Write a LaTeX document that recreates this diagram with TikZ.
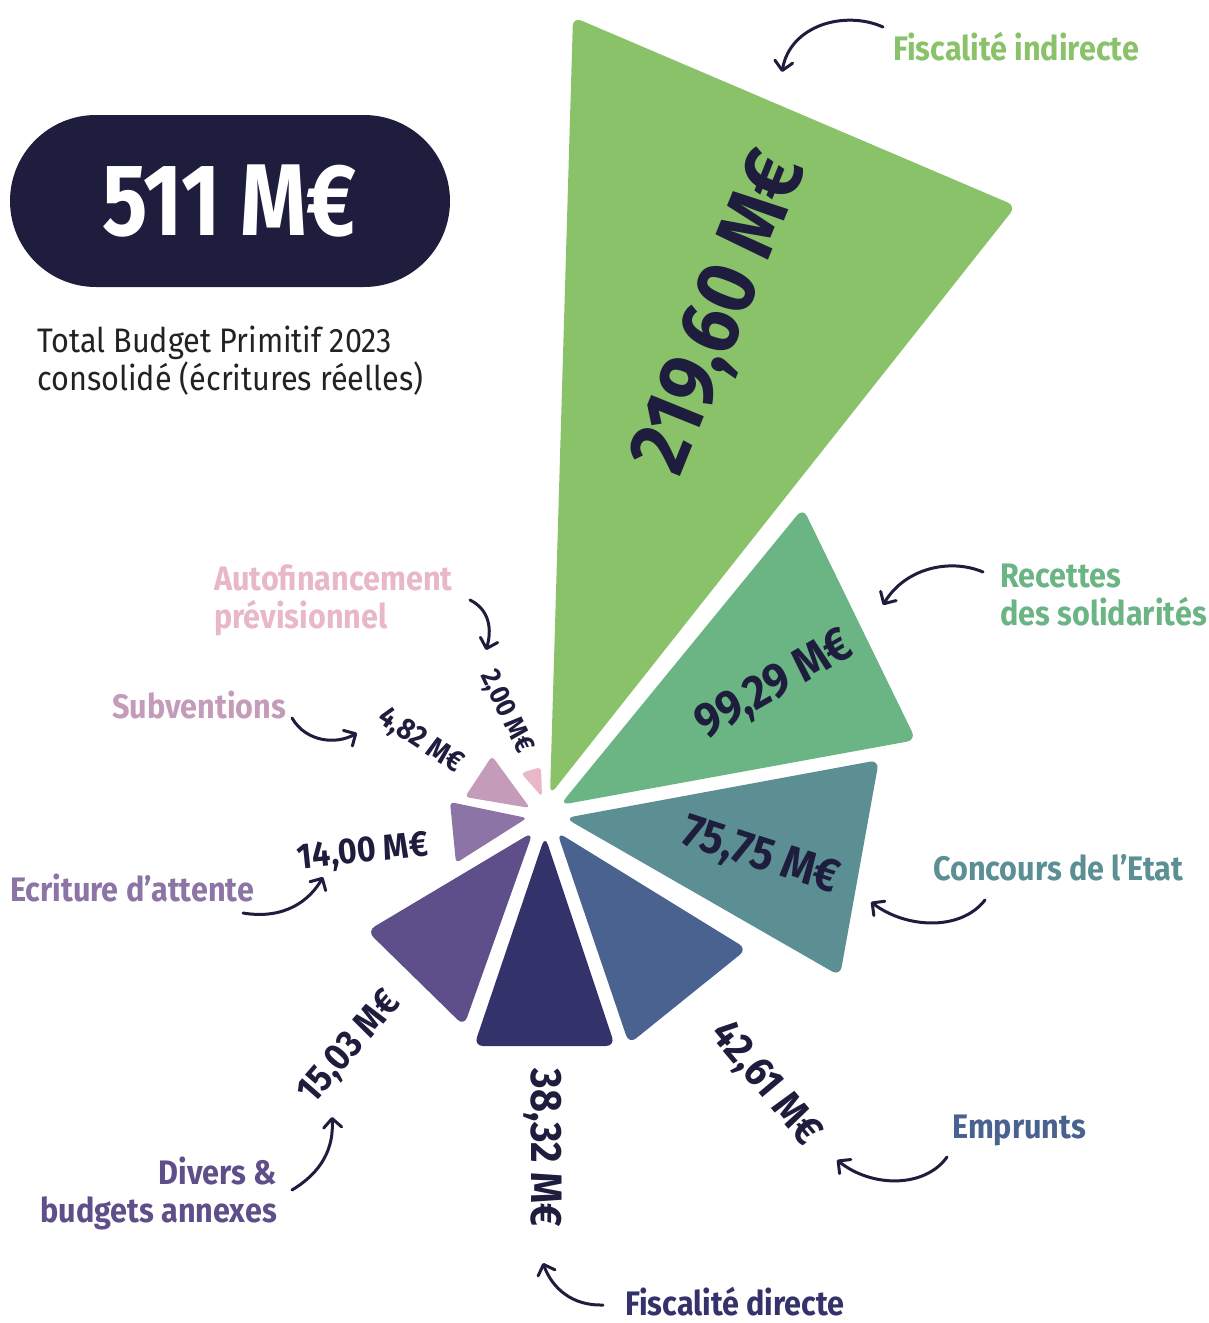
\documentclass[tikz,border=0pt]{standalone}
\usepackage{fontspec}
\setmainfont{Fira Sans}[FakeStretch=0.9]
\newfontfamily\pillfont{Fira Sans}[FakeStretch=0.83]
\usetikzlibrary{arrows.meta}
\definecolor{cInd}{HTML}{8AC26A}
\definecolor{cSol}{HTML}{6BB584}
\definecolor{cEtat}{HTML}{5B8F93}
\definecolor{cEmp}{HTML}{4A628F}
\definecolor{cDir}{HTML}{34326A}
\definecolor{cDiv}{HTML}{5E4F8B}
\definecolor{cEcr}{HTML}{8C74A6}
\definecolor{cSub}{HTML}{C49BB8}
\definecolor{cAuto}{HTML}{E8B7C9}
\definecolor{cDark}{HTML}{1F1D3D}
\definecolor{cBody}{HTML}{222222}
\begin{document}
\begin{tikzpicture}[x=1pt,y=-1pt,
  wedge/.style={rounded corners=9pt},
  smallwedge/.style={rounded corners=4pt},
  val/.style={text=cDark, inner sep=0pt},
  cat/.style={font=\bfseries\fontsize{34}{38}\selectfont, inner sep=0pt, anchor=base west, align=left},
  arr/.style={draw=cDark, line width=3pt, line cap=round, -{Straight Barb[length=9pt,width=18pt,round]}}]
\useasboundingbox (0,0) rectangle (1208,1323);

% wedges
\fill[cInd, wedge] (550,795) -- (573,17) -- (1016,206) -- cycle;
\fill[cSol, wedge] (560,805) -- (803,508) -- (916,740) -- cycle;
\fill[cEtat, wedge] (565,818) -- (879,760) -- (840,976) -- cycle;
\fill[cEmp, wedge] (557,832) -- (747,949) -- (629,1044) -- cycle;
\fill[cDir, wedge] (545,836) -- (615,1046) -- (474,1046) -- cycle;
\fill[cDiv, wedge] (533,832) -- (367,931) -- (464,1026) -- cycle;
\fill[cEcr, smallwedge] (527,818) -- (450,802) -- (456,863) -- cycle;
\fill[cSub, smallwedge] (530,808) -- (492,756) -- (465,797) -- cycle;
\fill[cAuto, smallwedge] (542,797) -- (521,773) -- (541,767) -- cycle;

% total pill
\node[fill=cDark, rounded corners=86pt, minimum width=440pt, minimum height=172pt, inner sep=0pt,
      text=white, font=\pillfont\bfseries\fontsize{102}{102}\selectfont] (pill) at (230,201) {511 M€};
\node[inner sep=0pt, anchor=base west, align=left, text=cBody, font=\fontsize{34}{38}\selectfont]
  (tot) at (37,390) {Total Budget Primitif 2023\\consolidé (écritures réelles)};

% values
\node[val, font=\bfseries\fontsize{84}{84}\selectfont, rotate=68] (v1) at (723,314) {219,60 M€};
\node[val, font=\bfseries\fontsize{48}{48}\selectfont, rotate=30] (v2) at (775,686) {99,29 M€};
\node[val, font=\bfseries\fontsize{47}{47}\selectfont, rotate=-18] (v3) at (760,857) {75,75 M€};
\node[val, font=\bfseries\fontsize{42}{42}\selectfont, rotate=-50] (v4) at (765,1084) {42,61 M€};
\node[val, font=\bfseries\fontsize{44}{44}\selectfont, rotate=-90] (v5) at (543,1148) {38,32 M€};
\node[val, font=\bfseries\fontsize{38}{38}\selectfont, rotate=49] (v6) at (350,1048) {15,03 M€};
\node[val, font=\bfseries\fontsize{36}{36}\selectfont, rotate=6] (v7) at (363,853) {14,00 M€};
\node[val, font=\bfseries\fontsize{30}{30}\selectfont, rotate=-33] (v8) at (420,741) {4,82 M€};
\node[val, font=\bfseries\fontsize{28}{28}\selectfont, rotate=-64] (v9) at (506,712) {2,00 M€};

% category labels
\node[cat, text=cInd] (l1) at (893,60) {Fiscalité indirecte};
\node[cat, text=cSol] (l2) at (1000,625) {Recettes\\des solidarités};
\node[cat, text=cEtat] (l3) at (933,880) {Concours de l’Etat};
\node[cat, text=cEmp] (l4) at (952,1138) {Emprunts};
\node[cat, text=cDir] (l5) at (625,1315) {Fiscalité directe};
\node[cat, text=cDiv, anchor=base east, align=right] (l6) at (277,1222) {Divers \&\\budgets annexes};
\node[cat, text=cEcr] (l7) at (10,901) {Ecriture d’attente};
\node[cat, text=cSub] (l8) at (112,718) {Subventions};
\node[cat, text=cAuto] (l9) at (214,628) {Autofinancement\\prévisionnel};

% arrow ends
\coordinate (a1s) at (883,27);  \coordinate (a1e) at (782,72);
\coordinate (a2s) at (983,572); \coordinate (a2e) at (883,605);
\coordinate (a3s) at (985,900); \coordinate (a3e) at (871,902);
\coordinate (a4s) at (947,1157); \coordinate (a4e) at (837,1160);
\coordinate (a5s) at (603,1305); \coordinate (a5e) at (543,1263);
\coordinate (a6s) at (292,1190); \coordinate (a6e) at (332,1117);
\coordinate (a7s) at (243,913); \coordinate (a7e) at (323,877);
\coordinate (a8s) at (292,718); \coordinate (a8e) at (357,733);
\coordinate (a9s) at (470,600); \coordinate (a9e) at (486,650);

\draw[arr] (a1s) .. controls (845,10) and (790,25) .. (a1e);
\draw[arr] (a2s) .. controls (950,558) and (905,568) .. (a2e);
\draw[arr] (a3s) .. controls (960,932) and (905,928) .. (a3e);
\draw[arr] (a4s) .. controls (925,1188) and (872,1188) .. (a4e);
\draw[arr] (a5s) .. controls (572,1306) and (552,1288) .. (a5e);
\draw[arr] (a6s) .. controls (322,1172) and (334,1148) .. (a6e);
\draw[arr] (a7s) .. controls (285,920) and (310,900) .. (a7e);
\draw[arr] (a8s) .. controls (306,742) and (336,745) .. (a8e);
\draw[arr] (a9s) .. controls (490,610) and (492,630) .. (a9e);
\end{tikzpicture}
\end{document}
